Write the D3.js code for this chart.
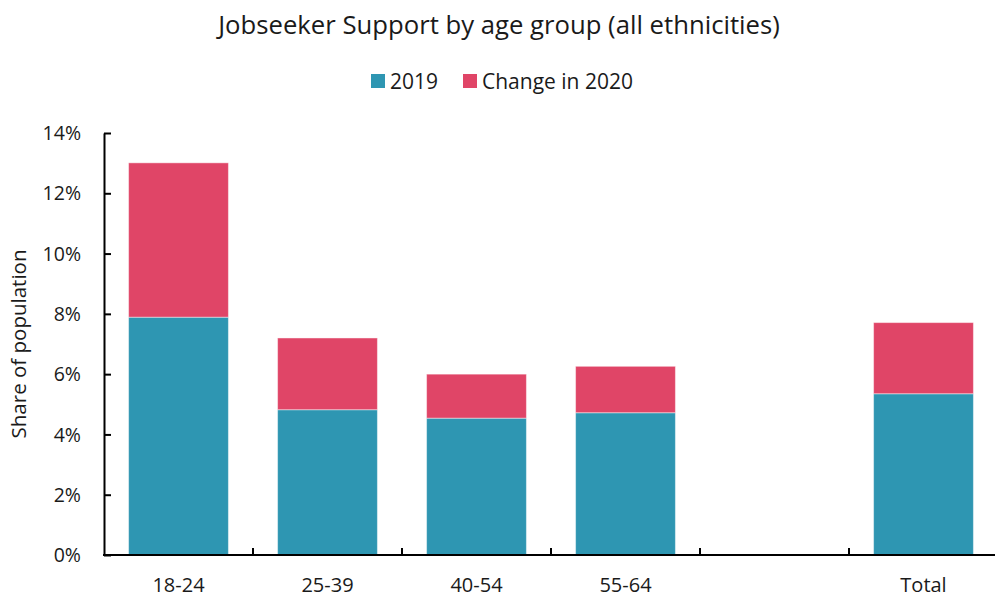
<!DOCTYPE html>
<html>
<head>
<meta charset="utf-8">
<script src="https://cdn.jsdelivr.net/npm/d3@7"></script>
<style>
  body { margin: 0; background: #fff; }
  svg text { font-family: "Open Sans", sans-serif; fill: #1a1a1a; }
  .axis path, .axis line { stroke: #000; stroke-width: 2px; }
</style>
</head>
<body>
<div id="chart"></div>
<script>
// data
const categories = ["18-24", "25-39", "40-54", "55-64", "", "Total"];
const values2019 = [7.89, 4.82, 4.54, 4.72, null, 5.35];
const change2020 = [5.12, 2.38, 1.46, 1.54, null, 2.36];
const seriesNames = ["2019", "Change in 2020"];
const yTicks = [0, 2, 4, 6, 8, 10, 12, 14];

const colors = { "2019": "#2e96b2", "Change in 2020": "#e04567" };

const width = 995, height = 598;
const margin = { top: 133, right: -3, bottom: 43, left: 104 };

const svg = d3.select("#chart").append("svg")
  .attr("width", width)
  .attr("height", height);

const x = d3.scaleBand()
  .domain(categories.map((c, i) => i))
  .range([margin.left, width - margin.right])
  .paddingInner(0.33)
  .paddingOuter(0.165);

const y = d3.scaleLinear()
  .domain([0, 14])
  .range([height - margin.bottom, margin.top]);

// stack rows
const rows = categories.map((c, i) => ({
  idx: i,
  "2019": values2019[i] || 0,
  "Change in 2020": change2020[i] || 0
}));
const stacked = d3.stack().keys(seriesNames)(rows);

svg.append("g")
  .selectAll("g")
  .data(stacked)
  .join("g")
  .attr("fill", d => colors[d.key])
  .selectAll("rect")
  .data(d => d.filter(p => p[1] > p[0]))
  .join("rect")
  .attr("x", d => x(d.data.idx))
  .attr("width", x.bandwidth())
  .attr("y", d => y(d[1]))
  .attr("height", d => y(d[0]) - y(d[1]))
  .attr("stroke", "#fff")
  .attr("stroke-opacity", 0.45)
  .attr("stroke-width", 1);

// y axis
const yAxis = svg.append("g")
  .attr("class", "axis")
  .attr("transform", `translate(${margin.left},0)`)
  .call(d3.axisLeft(y)
    .tickValues(yTicks)
    .tickFormat(d => d + "%")
    .tickSizeInner(-7)
    .tickSizeOuter(0)
    .tickPadding(23));
yAxis.selectAll("text").style("font-size", "19.5px").attr("dy", "0.34em");

// x axis (labels only, separators drawn below)
const xAxis = svg.append("g")
  .attr("class", "axis")
  .attr("transform", `translate(0,${height - margin.bottom})`)
  .call(d3.axisBottom(x)
    .tickFormat(i => categories[i])
    .tickSize(0)
    .tickPadding(23));
xAxis.select(".domain").attr("d", `M${margin.left - 1},0H${width - margin.right}`);
xAxis.selectAll("text").style("font-size", "20px");

// separator ticks between categories
const gap = x.step() - x.bandwidth();
xAxis.selectAll(".sep")
  .data(categories.slice(0, -1).map((c, i) => i))
  .join("line")
  .attr("class", "sep")
  .attr("x1", i => x(i) + x.bandwidth() + gap / 2)
  .attr("x2", i => x(i) + x.bandwidth() + gap / 2)
  .attr("y1", 0)
  .attr("y2", -7);

// y axis title
svg.append("text")
  .attr("transform", `translate(26,${(margin.top + height - margin.bottom) / 2}) rotate(-90)`)
  .attr("text-anchor", "middle")
  .style("font-size", "20.5px")
  .text("Share of population");

// title
svg.append("text")
  .attr("x", 499)
  .attr("y", 34)
  .attr("text-anchor", "middle")
  .style("font-size", "25.7px")
  .text("Jobseeker Support by age group (all ethnicities)");

// legend
const legendX = [371, 463];
const legend = svg.append("g")
  .selectAll("g")
  .data(seriesNames)
  .join("g")
  .attr("transform", (d, i) => `translate(${legendX[i]},74)`);
legend.append("rect")
  .attr("width", 14)
  .attr("height", 14)
  .attr("fill", d => colors[d]);
legend.append("text")
  .attr("x", 19)
  .attr("y", 14.5)
  .style("font-size", "21px")
  .text(d => d);
</script>
</body>
</html>
